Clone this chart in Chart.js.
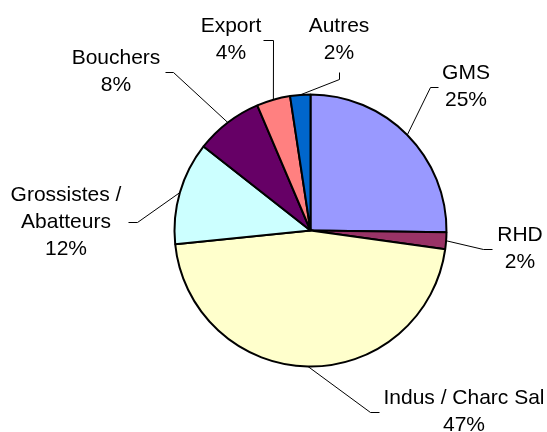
<!DOCTYPE html>
<html>
<head>
<meta charset="utf-8">
<script src="https://cdn.jsdelivr.net/npm/chart.js@4/dist/chart.umd.min.js"></script>
<style>
  html, body { margin: 0; padding: 0; background: #fff; }
  #graphique { display: block; }
</style>
</head>
<body>
<canvas id="graphique" width="547" height="432"></canvas>
<script>
// Données (parts en %, sens horaire depuis midi)
const categories = ["GMS", "RHD", ["Indus / Charc Sal"], ["Grossistes /", "Abatteurs"], "Bouchers", "Export", "Autres"];
const parts = [25.2, 2.0, 46.2, 12.2, 8.0, 4.0, 2.4];
const pctLabels = ["25%", "2%", "47%", "12%", "8%", "4%", "2%"];
const couleurs = ["#9999FF", "#993366", "#FFFFCC", "#CCFFFF", "#660066", "#FF8080", "#0066CC"];

// Placement des étiquettes (centre du texte) et petit segment du trait de rappel
const etiquettes = [
    { x: 466, y: 86.5, tick: [[438, 87], [430, 87]] },
    { x: 520, y: 248.5, tick: [[492, 249], [483, 249]] },
    { x: 464, y: 411.5, tick: [[379, 412], [370, 412]] },
    { x: 66, y: 222, tick: [[128, 222], [137, 222]] },
    { x: 116, y: 71.5, tick: [[165, 72], [173, 72]] },
    { x: 231, y: 40, tick: [[263, 40], [273, 40]] },
    { x: 339, y: 40, tick: [[339, 72], [339, 79]] }
];

const labelsPlugin = {
    id: "etiquettes",
    afterDraw(chart) {
        const ctx = chart.ctx;
        const arcs = chart.getDatasetMeta(0).data;
        ctx.save();
        arcs.forEach((arc, i) => {
            const { x, y, startAngle, endAngle, outerRadius } = arc.getProps(["x", "y", "startAngle", "endAngle", "outerRadius"], true);
            const mid = (startAngle + endAngle) / 2;
            const px = x + Math.cos(mid) * outerRadius;
            const py = y + Math.sin(mid) * outerRadius;
            const lab = etiquettes[i];

            // trait de rappel
            ctx.strokeStyle = "#000";
            ctx.lineWidth = 1;
            ctx.beginPath();
            ctx.moveTo(lab.tick[0][0] + 0.5, lab.tick[0][1] + 0.5);
            ctx.lineTo(lab.tick[1][0] + 0.5, lab.tick[1][1] + 0.5);
            ctx.lineTo(px, py);
            ctx.stroke();

            // texte
            const nom = Array.isArray(categories[i]) ? categories[i] : [categories[i]];
            const lignes = nom.concat([pctLabels[i]]);
            const interligne = 27;
            ctx.fillStyle = "#000";
            ctx.font = '21px "Liberation Sans", Arial, sans-serif';
            ctx.textAlign = "center";
            ctx.textBaseline = "middle";
            const y0 = lab.y - (lignes.length - 1) * interligne / 2;
            lignes.forEach((t, k) => ctx.fillText(t, lab.x, y0 + k * interligne));
        });
        ctx.restore();
    }
};

const ctx = document.getElementById("graphique").getContext("2d");
new Chart(ctx, {
    type: "pie",
    data: {
        labels: categories,
        datasets: [{
            data: parts,
            backgroundColor: couleurs,
            borderColor: "#000",
            borderWidth: 2,
            hoverOffset: 0
        }]
    },
    options: {
        responsive: false,
        animation: false,
        layout: { padding: { left: 173.5, right: 99.5, top: 93.5, bottom: 64.5 } },
        plugins: {
            legend: { display: false },
            tooltip: { enabled: false }
        }
    },
    plugins: [labelsPlugin]
});
</script>
</body>
</html>
